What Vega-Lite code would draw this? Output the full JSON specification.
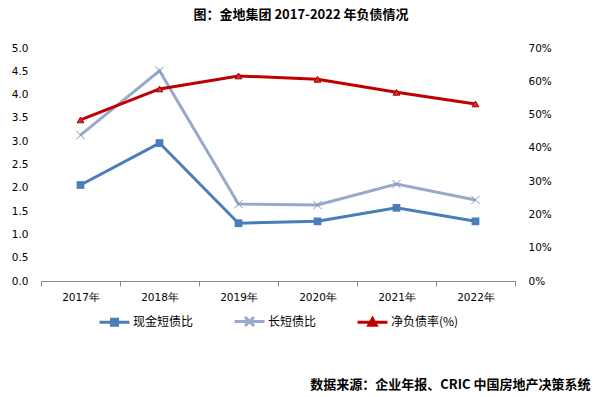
{
  "$schema": "https://vega.github.io/schema/vega-lite/v6.json",
  "width": 474,
  "height": 233,
  "autosize": {"type": "none"},
  "padding": {"left": 41, "top": 48, "right": 82, "bottom": 116},
  "background": "white",
  "config": {
    "view": {"stroke": null},
    "font": "DejaVu Sans",
    "axis": {"labelFont": "DejaVu Sans", "labelFontSize": 10.5, "labelColor": "#000000", "grid": false, "labelOverlap": false},
    "legend": {"labelFont": "Noto Sans CJK SC", "labelFontSize": 12, "labelColor": "#000000"}
  },
  "title": {
    "text": "图：金地集团 2017-2022 年负债情况",
    "font": "Noto Sans CJK SC",
    "fontSize": 13,
    "fontWeight": "bold",
    "color": "#000000",
    "anchor": "middle",
    "frame": "group",
    "dx": 23,
    "offset": 21
  },
  "datasets": {
    "ratios": [
      {"year": "2017年", "series": "现金短债比", "value": 2.06},
      {"year": "2018年", "series": "现金短债比", "value": 2.96},
      {"year": "2019年", "series": "现金短债比", "value": 1.24},
      {"year": "2020年", "series": "现金短债比", "value": 1.28},
      {"year": "2021年", "series": "现金短债比", "value": 1.57},
      {"year": "2022年", "series": "现金短债比", "value": 1.28},
      {"year": "2017年", "series": "长短债比", "value": 3.13},
      {"year": "2018年", "series": "长短债比", "value": 4.51},
      {"year": "2019年", "series": "长短债比", "value": 1.65},
      {"year": "2020年", "series": "长短债比", "value": 1.63},
      {"year": "2021年", "series": "长短债比", "value": 2.08},
      {"year": "2022年", "series": "长短债比", "value": 1.74}
    ],
    "debt": [
      {"year": "2017年", "series": "净负债率(%)", "value": 0.484},
      {"year": "2018年", "series": "净负债率(%)", "value": 0.577},
      {"year": "2019年", "series": "净负债率(%)", "value": 0.616},
      {"year": "2020年", "series": "净负债率(%)", "value": 0.606},
      {"year": "2021年", "series": "净负债率(%)", "value": 0.567},
      {"year": "2022年", "series": "净负债率(%)", "value": 0.532}
    ],
    "legend": [
      {"year": "2017年", "series": "现金短债比", "value": 0},
      {"year": "2017年", "series": "长短债比", "value": 0},
      {"year": "2017年", "series": "净负债率(%)", "value": 0}
    ]
  },
  "encoding": {
    "x": {
      "field": "year",
      "type": "nominal",
      "sort": null,
      "scale": {"paddingInner": 0, "paddingOuter": 0},
      "axis": {
        "title": "数据来源：企业年报、CRIC 中国房地产决策系统",
        "titleFont": "Noto Sans CJK SC",
        "titleFontSize": 13,
        "titleFontWeight": "bold",
        "titleColor": "#000000",
        "titleX": 549,
        "titleY": 97,
        "titleAlign": "right",
        "titleAnchor": null,
        "labelAngle": 0,
        "labelPadding": 6,
        "domainColor": "#868686",
        "tickColor": "#868686",
        "tickBand": "extent",
        "tickSize": 5,
        "orient": "bottom"
      }
    }
  },
  "layer": [
    {
      "data": {"name": "ratios"},
      "encoding": {
        "y": {"field": "value", "type": "quantitative", "scale": {"domain": [0, 5]},
          "axis": {"title": null, "orient": "left", "format": ".1f", "values": [0,0.5,1,1.5,2,2.5,3,3.5,4,4.5,5], "labelOverlap": false, "domain": false, "ticks": false, "labelPadding": 13}}
      },
      "layer": [
        {
          "mark": {"type": "line", "strokeWidth": 3},
          "encoding": {
            "color": {"field": "series", "type": "nominal", "legend": null,
              "scale": {"domain": ["现金短债比", "长短债比"], "range": ["#4A7EBB", "#98A9CA"]}}
          }
        },
        {
          "mark": {"type": "point", "filled": true, "size": 60, "opacity": 1},
          "transform": [{"filter": "datum.series === '现金短债比'"}],
          "encoding": {
            "shape": {"value": "square"},
            "color": {"value": "#4A7EBB"}
          }
        },
        {
          "mark": {"type": "point", "filled": false, "size": 70, "strokeWidth": 1, "opacity": 1},
          "transform": [{"filter": "datum.series === '长短债比'"}],
          "encoding": {
            "shape": {"value": "M-1,-1L1,1M-1,1L1,-1"},
            "color": {"value": "#7C95C8"}
          }
        }
      ]
    },
    {
      "data": {"name": "debt"},
      "encoding": {
        "y": {"field": "value", "type": "quantitative", "scale": {"domain": [0, 0.7]},
          "axis": {"title": null, "orient": "right", "format": ".0%", "values": [0,0.1,0.2,0.3,0.4,0.5,0.6,0.7], "labelOverlap": false, "domain": false, "ticks": false, "labelPadding": 13}}
      },
      "layer": [
        {
          "mark": {"type": "line", "strokeWidth": 3, "color": "#C00000"},
          "encoding": {}
        },
        {
          "mark": {"type": "point", "filled": true, "size": 45, "shape": "triangle-up", "fill": "#D03030", "stroke": "#A00000", "strokeWidth": 1, "opacity": 1},
          "encoding": {}
        },
        {
          "data": {"name": "legend"},
          "mark": {"type": "point", "opacity": 0, "filled": false, "strokeWidth": 3},
          "encoding": {
            "stroke": {
              "field": "series", "type": "nominal",
              "scale": {"domain": ["现金短债比", "长短债比", "净负债率(%)"], "range": ["#4A7EBB", "#98A9CA", "#C00000"]},
              "legend": {
                "title": null,
                "orient": "none",
                "direction": "horizontal",
                "legendX": 57,
                "legendY": 257,
                "columnPadding": 34,
                "symbolSize": 900,
                "symbolOpacity": 1,
                "symbolStrokeWidth": 3,
                "labelOffset": 2
              }
            },
            "shape": {
              "field": "series", "type": "nominal",
              "scale": {"domain": ["现金短债比", "长短债比", "净负债率(%)"],
                "range": ["M-1,0H1M-0.2,-0.2H0.2V0.2H-0.2Z", "M-1,0H1M-0.3,-0.3L0.3,0.3M-0.3,0.3L0.3,-0.3", "M-1,0H1M0,-0.25L0.25,0.2H-0.25Z"]}
            }
          }
        }
      ]
    }
  ],
  "resolve": {"scale": {"y": "independent", "color": "independent", "shape": "independent", "stroke": "independent"}}
}
